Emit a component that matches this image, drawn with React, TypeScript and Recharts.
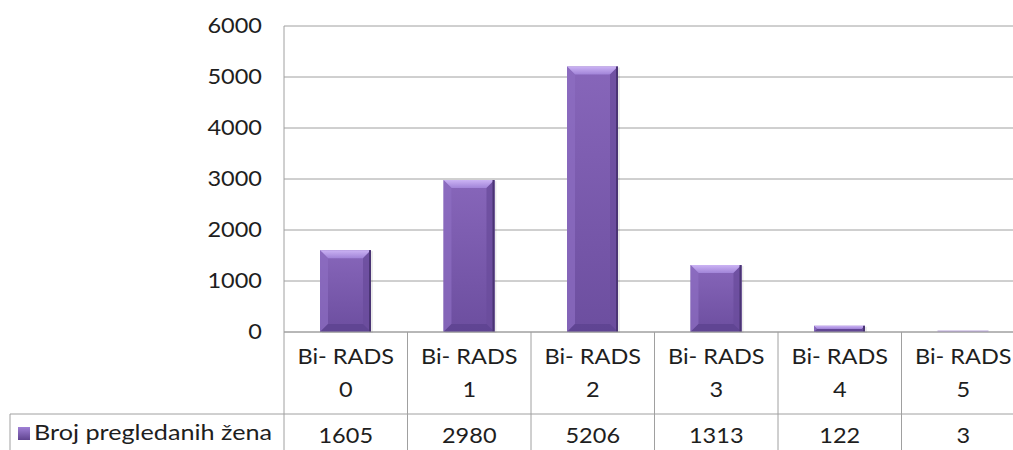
import { BarChart, Bar, XAxis, YAxis, CartesianGrid } from 'recharts';

const categories = ['Bi- RADS 0', 'Bi- RADS 1', 'Bi- RADS 2', 'Bi- RADS 3', 'Bi- RADS 4', 'Bi- RADS 5'];
const values = [1605, 2980, 5206, 1313, 122, 3];
const yTicks = [0, 1000, 2000, 3000, 4000, 5000, 6000];
const seriesName = 'Broj pregledanih žena';

const data = categories.map((c, i) => ({ name: c, value: values[i] }));

const CHART_W = 1030;
const CHART_H = 450;
const Y_W = 284;
const RIGHT = 5;
const COL = (CHART_W - Y_W - RIGHT) / categories.length;
const FONT = 'Lato, "Open Sans", sans-serif';
const TXT = '#1e1e1e';
const LINE = '#a0a0a0';

const Label = ({ x, y, children, anchor = 'middle', size = 21, sx = 1.12 }: any) => (
    <text
        transform={`translate(${x},${y}) scale(${sx},1)`}
        textAnchor={anchor}
        fontFamily={FONT}
        fontSize={size}
        fill={TXT}
    >
        {children}
    </text>
);

const YTick = ({ x, y, payload }: any) => (
    <Label x={x} y={y + 7} anchor="end">{payload.value}</Label>
);

const XTick = ({ x, y, payload, index }: any) => {
    const label: string = payload.value;
    const cut = label.lastIndexOf(' ');
    const left = x - COL / 2;
    const right = x + COL / 2;
    const rowY = y + 82;
    return (
        <g>
            <line x1={left} y1={y} x2={left} y2={y + 140} stroke={LINE} />
            {index === categories.length - 1 && (
                <line x1={right} y1={y} x2={right} y2={y + 140} stroke={LINE} />
            )}
            <line x1={left} y1={rowY} x2={right} y2={rowY} stroke={LINE} />
            <Label x={x} y={y + 32}>{label.slice(0, cut)}</Label>
            <Label x={x} y={y + 65}>{label.slice(cut + 1)}</Label>
            <Label x={x} y={rowY + 29}>{values[index]}</Label>
            {index === 0 && (
                <g>
                    <line x1={10} y1={rowY} x2={left} y2={rowY} stroke={LINE} />
                    <line x1={10} y1={rowY} x2={10} y2={rowY + 60} stroke={LINE} />
                    <rect x={18} y={rowY + 13} width={12} height={13} fill="url(#legendFill)" />
                    <Label x={34} y={rowY + 26} anchor="start" sx={1.2}>{seriesName}</Label>
                </g>
            )}
        </g>
    );
};

const BevelBar = (props: any) => {
    const { x, y, width: w, height: h } = props;
    if (!(h > 0)) return null;
    if (h < 3) {
        return <rect x={x} y={y + h - 1.5} width={w} height={1.5} fill="#b9a6da" />;
    }
    const b = Math.min(8, h / 2, w / 2);
    return (
        <g>
            <rect x={x + 2} y={y + 1} width={w} height={h} fill="#000" opacity={0.08} />
            <rect x={x} y={y} width={w} height={h} fill="url(#barBody)" />
            <polygon points={`${x},${y} ${x + w},${y} ${x + w - b},${y + b} ${x + b},${y + b}`} fill="url(#barTop)" />
            <polygon points={`${x},${y} ${x + b},${y + b} ${x + b},${y + h - b} ${x},${y + h}`} fill="#8d6dc2" opacity={0.7} />
            <polygon points={`${x + w},${y} ${x + w},${y + h} ${x + w - b},${y + h - b} ${x + w - b},${y + b}`} fill="#6a4c9c" opacity={0.8} />
            <polygon points={`${x},${y + h} ${x + w},${y + h} ${x + w - b},${y + h - b} ${x + b},${y + h - b}`} fill="#5d4290" opacity={0.8} />
            <rect x={x + w - 2} y={y} width={2} height={h} fill="#4a3474" />
        </g>
    );
};

export default function App() {
    return (
        <div style={{ position: 'absolute', left: 0, top: 0, width: 1013, height: 450, overflow: 'hidden', background: '#fff' }}>
            <BarChart
                width={CHART_W}
                height={CHART_H}
                data={data}
                margin={{ top: 26, right: RIGHT, left: 0, bottom: 0 }}
                barSize={51}
            >
                <defs>
                    <linearGradient id="barBody" x1="0" y1="0" x2="0" y2="1">
                        <stop offset="0%" stopColor="#8766ba" />
                        <stop offset="100%" stopColor="#6c4e9f" />
                    </linearGradient>
                    <linearGradient id="barTop" x1="0" y1="0" x2="0" y2="1">
                        <stop offset="0%" stopColor="#cbb3f4" />
                        <stop offset="100%" stopColor="#a184d8" />
                    </linearGradient>
                    <linearGradient id="legendFill" x1="0" y1="0" x2="0" y2="1">
                        <stop offset="0%" stopColor="#9f80d6" />
                        <stop offset="100%" stopColor="#60448f" />
                    </linearGradient>
                </defs>
                <CartesianGrid vertical={false} stroke={LINE} />
                <XAxis
                    dataKey="name"
                    height={CHART_H - 332}
                    axisLine={{ stroke: LINE }}
                    tickLine={false}
                    tickSize={0}
                    tickMargin={0}
                    interval={0}
                    tick={<XTick />}
                />
                <YAxis
                    width={Y_W}
                    domain={[0, 6000]}
                    ticks={yTicks}
                    axisLine={{ stroke: LINE }}
                    tickLine={false}
                    tickSize={0}
                    tickMargin={22}
                    tick={<YTick />}
                />
                <Bar dataKey="value" name={seriesName} shape={<BevelBar />} isAnimationActive={false} />
            </BarChart>
        </div>
    );
}
